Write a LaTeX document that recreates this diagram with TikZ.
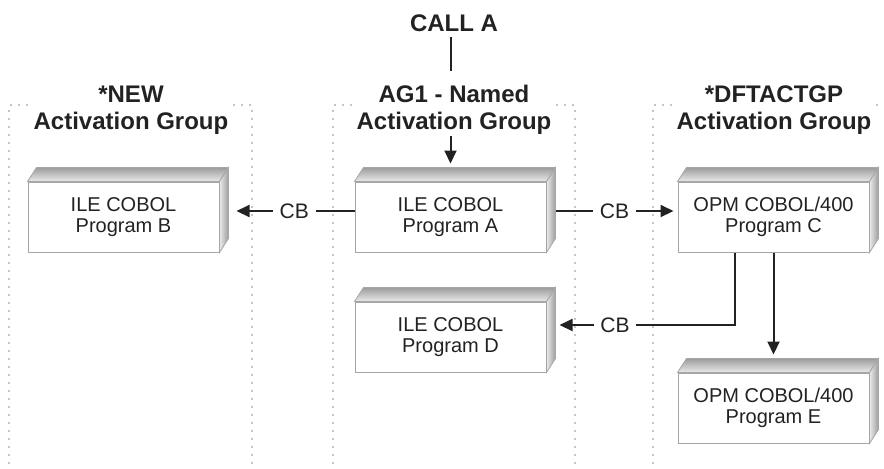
\documentclass[tikz,border=0pt]{standalone}
\usepackage{fontspec}
\setmainfont{Liberation Sans}
\setsansfont{Liberation Sans}
\usetikzlibrary{arrows.meta,positioning}
\definecolor{agink}{HTML}{222222}
\definecolor{agdots}{HTML}{8A8A8A}
\definecolor{agedge}{HTML}{A6A6A6}
\definecolor{agdark}{HTML}{9C9C9C}
\definecolor{aglight}{HTML}{EAEAEA}
\tikzset{
  prog/.style={
    draw=agedge,
    line width=0.5pt,
    fill=white,
    minimum width=95.5pt,
    minimum height=35pt,
    inner sep=0pt,
    align=center,
    text=agink,
    font=\fontsize{10}{10.5}\selectfont
  },
  title/.style={
    inner sep=0pt,
    align=center,
    text=agink,
    font=\fontsize{12}{13.5}\selectfont\bfseries
  },
  cb/.style={fill=white,inner xsep=3.4pt,inner ysep=1pt,text=agink,font=\fontsize{10.5}{12}\selectfont},
  plain/.style={draw=agink,line width=1pt},
  conn/.style={plain,-{Triangle[length=6.5pt,width=6pt]}},
  group/.style={draw=agdots,line width=0.9pt,line cap=round,dash pattern=on 0pt off 4pt}
}
% top and right faces of a program box
\newcommand\bevel[1]{%
  \shade[top color=agdark,bottom color=aglight,draw=agedge,line width=0.4pt]
    (#1.north west) -- ++(9,-14) -- ([shift={(9,-14)}]#1.north east) -- (#1.north east) -- cycle;
  \shade[left color=aglight,right color=agdark,draw=agedge,line width=0.4pt]
    (#1.north east) -- ++(9,-14) -- ([shift={(9,-14)}]#1.south east) -- (#1.south east) -- cycle;
}
\begin{document}
\begin{tikzpicture}[x=0.5pt,y=-0.5pt]
  \useasboundingbox[fill=white] (0,0) rectangle (884,468);
  \clip (0,0) rectangle (884,468);

  % activation groups
  \foreach \l/\r in {9/252,333/575,653/895} {
    \draw[group] (\l+18,105) -- (\l,105) -- (\l,468);
    \draw[group] (\r-18,105) -- (\r,105) -- (\r,468);
  }

  \node[title] (tNew) at (131,110) {*NEW\\Activation Group};
  \node[title] (agA) at (454,110) {AG1 - Named\\Activation Group};
  \node[title] (tDft) at (774,110) {*DFTACTGP\\Activation Group};
  \node[title] (callA) at (454,23.5) {CALL A};

  \node[prog] (A) at (450.5,217) {ILE COBOL\\Program A};
  \node[prog, left=67.5pt of A] (B) {ILE COBOL\\Program B};
  \node[prog, right=65.5pt of A] (C) {OPM COBOL/400\\Program C};
  \node[prog, below=24.5pt of A] (D) {ILE COBOL\\Program D};
  \node[prog, below=60pt of C] (E) {OPM COBOL/400\\Program E};

  \bevel{A}
  \bevel{B}
  \bevel{C}
  \bevel{D}
  \bevel{E}

  \draw[plain,shorten <=2.5pt,shorten >=7pt] (A.north |- callA.south) -- (A.north |- agA.north);
  \draw[conn,shorten <=0.5pt] (A.north |- agA.south) -- ([yshift=9pt]A.north);
  \draw[conn] ([yshift=3pt]A.west) -- node[cb,pos=0.51]{CB} ([xshift=8.5pt,yshift=3pt]B.east);
  \draw[conn] ([xshift=4.5pt,yshift=3pt]A.east) -- node[cb,pos=0.5]{CB} ([xshift=-2pt,yshift=3pt]C.west);
  \draw[conn] ([xshift=-19.25pt]C.south) |- node[cb,pos=0.842]{CB} ([xshift=6.5pt,yshift=6pt]D.east);
  \draw[conn] (E.north |- C.south) -- ([yshift=9pt]E.north);
\end{tikzpicture}
\end{document}
